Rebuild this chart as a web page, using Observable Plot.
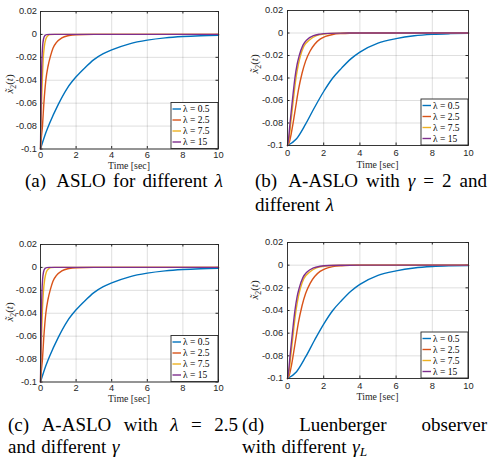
<!DOCTYPE html>
<html><head><meta charset="utf-8">
<script src="https://cdn.jsdelivr.net/npm/d3@7"></script>
<script src="https://cdn.jsdelivr.net/npm/@observablehq/plot@0.6"></script>
<style>
body{margin:0;background:#fff;}
#fig{position:relative;width:493px;height:464px;overflow:hidden;background:#fff;}
.panel{position:absolute;}
#cap{position:absolute;left:0;top:0;}
</style></head><body><div id="fig"></div>
<script>
// ---- shared ticks / categories ----
const xTicks = [0, 2, 4, 6, 8, 10];
const yTicks = [0.02, 0, -0.02, -0.04, -0.06, -0.08, -0.1];
const lambdas = ["0.5", "2.5", "7.5", "15"];
const colors = ["#0072BD", "#D95319", "#EDB120", "#7E2F8E"];

// ---- (a) ASLO for different lambda : [time, value] ----
const a1 = [[0,-0.1],[0.25,-0.088],[0.5,-0.078],[1,-0.061],[1.5,-0.047],[2,-0.037],[2.5,-0.029],[3,-0.022],[3.5,-0.017],[4,-0.0135],[5,-0.0082],[6,-0.005],[7,-0.003],[8,-0.0018],[9,-0.0011],[10,-0.0007]];
const a2 = [[0,-0.1],[0.05,-0.09],[0.11,-0.08],[0.19,-0.06],[0.3,-0.04],[0.42,-0.028],[0.56,-0.019],[0.7,-0.012],[0.9,-0.007],[1.2,-0.003],[1.6,-0.001],[2,-0.0003],[3,0],[10,0]];
const a3 = [[0,-0.1],[0.03,-0.08],[0.06,-0.06],[0.1,-0.04],[0.15,-0.022],[0.22,-0.01],[0.3,-0.004],[0.4,-0.0013],[0.55,-0.0002],[0.8,0],[10,0]];
const a4 = [[0,-0.1],[0.015,-0.08],[0.03,-0.06],[0.05,-0.04],[0.08,-0.022],[0.12,-0.01],[0.17,-0.004],[0.24,-0.0012],[0.35,-0.0002],[0.5,0],[10,0]];

// ---- (b) A-ASLO with gamma = 2, different lambda ----
const b1 = [[0,-0.1],[0.5,-0.094],[1,-0.081],[1.5,-0.066],[2,-0.052],[2.5,-0.04],[3,-0.031],[3.5,-0.023],[4,-0.017],[5,-0.009],[6,-0.005],[7,-0.0025],[8,-0.0012],[9,-0.0006],[10,-0.0003]];
const b2 = [[0,-0.1],[0.1,-0.097],[0.2,-0.09],[0.3,-0.081],[0.45,-0.066],[0.6,-0.051],[0.8,-0.036],[1,-0.025],[1.25,-0.016],[1.5,-0.01],[1.8,-0.0055],[2.1,-0.003],[2.5,-0.0013],[3,-0.0005],[3.5,-0.0002],[4,-0.0001],[5,0],[10,0]];
const b3 = [[0,-0.1],[0.08,-0.095],[0.18,-0.08],[0.32,-0.06],[0.47,-0.04],[0.6,-0.028],[0.72,-0.02],[0.9,-0.012],[1.23,-0.006],[1.6,-0.0024],[2,-0.001],[2.5,-0.0003],[3,-0.0001],[4,0],[10,0]];
const b4 = [[0,-0.1],[0.06,-0.094],[0.14,-0.08],[0.27,-0.06],[0.41,-0.04],[0.53,-0.028],[0.65,-0.02],[0.85,-0.011],[1.08,-0.006],[1.44,-0.0024],[1.8,-0.001],[2.3,-0.0003],[3,-0.0001],[4,0],[10,0]];

// ---- (c) A-ASLO with lambda = 2.5, different gamma ----
const c1 = [[0,-0.1],[0.25,-0.088],[0.5,-0.078],[1,-0.061],[1.5,-0.047],[2,-0.037],[2.5,-0.029],[3,-0.022],[3.5,-0.017],[4,-0.0135],[5,-0.0082],[6,-0.005],[7,-0.003],[8,-0.0018],[9,-0.0011],[10,-0.0007]];
const c2 = [[0,-0.1],[0.05,-0.09],[0.11,-0.08],[0.19,-0.06],[0.3,-0.04],[0.42,-0.028],[0.56,-0.019],[0.7,-0.012],[0.9,-0.007],[1.2,-0.003],[1.6,-0.001],[2,-0.0003],[3,0],[10,0]];
const c3 = [[0,-0.1],[0.03,-0.08],[0.06,-0.06],[0.1,-0.04],[0.16,-0.022],[0.24,-0.01],[0.33,-0.004],[0.45,-0.0013],[0.6,-0.0002],[0.8,0],[10,0]];
const c4 = [[0,-0.1],[0.015,-0.08],[0.03,-0.06],[0.05,-0.04],[0.08,-0.022],[0.12,-0.01],[0.17,-0.004],[0.24,-0.0012],[0.35,-0.0002],[0.5,0],[10,0]];

// ---- (d) Luenberger observer, different gamma_L ----
const d1 = [[0,-0.1],[0.5,-0.094],[1,-0.081],[1.5,-0.066],[2,-0.052],[2.5,-0.04],[3,-0.031],[3.5,-0.023],[4,-0.017],[5,-0.009],[6,-0.005],[7,-0.0025],[8,-0.0012],[9,-0.0006],[10,-0.0003]];
const d2 = [[0,-0.1],[0.1,-0.097],[0.2,-0.09],[0.3,-0.081],[0.45,-0.066],[0.6,-0.051],[0.8,-0.036],[1,-0.025],[1.25,-0.016],[1.5,-0.01],[1.8,-0.0055],[2.1,-0.003],[2.5,-0.0013],[3,-0.0005],[3.5,-0.0002],[4,-0.0001],[5,0],[10,0]];
const d3s = [[0,-0.1],[0.08,-0.095],[0.18,-0.08],[0.32,-0.06],[0.47,-0.04],[0.6,-0.028],[0.72,-0.02],[0.9,-0.012],[1.23,-0.006],[1.6,-0.0024],[2,-0.001],[2.5,-0.0003],[3,-0.0001],[4,0],[10,0]];
const d4 = [[0,-0.1],[0.06,-0.094],[0.14,-0.08],[0.27,-0.06],[0.41,-0.04],[0.53,-0.028],[0.65,-0.02],[0.85,-0.011],[1.08,-0.006],[1.44,-0.0024],[1.8,-0.001],[2.3,-0.0003],[3,-0.0001],[4,0],[10,0]];

const fig = document.getElementById("fig");
const INK = "#262626";
const SERIF = "'Liberation Serif', 'Times New Roman', serif";

function panel(series, o) {
  const pw = o.W - o.ml - o.mr, ph = o.H - o.mt - o.mb;
  const rows = [];
  series.forEach((s, i) => s.forEach(([t, v]) => rows.push({t, v, k: lambdas[i]})));
  const svg = Plot.plot({
    width: o.W, height: o.H,
    marginTop: o.mt, marginBottom: o.mb, marginLeft: o.ml, marginRight: o.mr,
    style: {fontFamily: "'Liberation Sans', Arial, sans-serif", fontSize: "9.3px", color: INK, background: "#fff", overflow: "visible"},
    x: {domain: [0, 10]},
    y: {domain: [-0.1, 0.02]},
    color: {domain: lambdas, range: colors},
    marks: [
      Plot.gridX(xTicks, {stroke: INK, strokeOpacity: 0.15}),
      Plot.gridY(yTicks, {stroke: INK, strokeOpacity: 0.15}),
      Plot.ruleX(xTicks, {stroke: INK, insetTop: ph - 2.5}),
      Plot.ruleX(xTicks, {stroke: INK, insetBottom: ph - 2.5}),
      Plot.ruleY(yTicks, {stroke: INK, insetRight: pw - 2.5}),
      Plot.ruleY(yTicks, {stroke: INK, insetLeft: pw - 2.5}),
      Plot.line(rows, {x: "t", y: "v", z: "k", stroke: "k", strokeWidth: 1.4, curve: "monotone-x"}),
      Plot.frame({stroke: INK, strokeWidth: 0.9}),
      Plot.axisX(xTicks, {tickSize: 0, tickPadding: o.xpad, label: null, tickFormat: d => String(d)}),
      Plot.axisY(yTicks, {tickSize: 0, tickPadding: o.ypad, label: null, tickFormat: d => String(Math.round(d * 100) / 100)})
    ]
  });
  const x = svg.scale("x"), y = svg.scale("y");
  const s = d3.select(svg);
  // x label
  s.append("text").attr("x", x.apply(5)).attr("y", o.xlabY)
    .attr("text-anchor", "middle").attr("font-family", SERIF).attr("font-size", 9.8).attr("fill", INK)
    .text("Time [sec]");
  // y label
  const yl = s.append("text").attr("transform", `translate(${o.ylab[0]},${o.ylab[1]}) rotate(-90)`)
    .attr("text-anchor", "middle").attr("font-family", SERIF).attr("font-size", 11).attr("fill", INK);
  yl.append("tspan").attr("font-style", "italic").text("x\u0303");
  yl.append("tspan").attr("font-size", 7.8).attr("dy", 2.5).text("2");
  yl.append("tspan").attr("dy", -2.5).text("(");
  yl.append("tspan").attr("font-style", "italic").text("t");
  yl.append("tspan").text(")");
  // legend
  const right = x.apply(10), bottom = y.apply(-0.1), w = 47, h = 46;
  const g = s.append("g").attr("text-anchor", "start");
  g.append("rect").attr("x", right - w).attr("y", bottom - h).attr("width", w).attr("height", h)
    .attr("fill", "#fff").attr("stroke", INK).attr("stroke-width", 0.9);
  lambdas.forEach((l, i) => {
    const yy = bottom - h + 6.5 + i * 11;
    g.append("line").attr("x1", right - w + 1.5).attr("x2", right - w + 10).attr("y1", yy).attr("y2", yy)
      .attr("stroke", colors[i]).attr("stroke-width", 1.4);
    g.append("text").attr("x", right - w + 12).attr("y", yy + 3).attr("text-anchor", "start")
      .attr("font-family", SERIF).attr("font-size", 9.5).attr("fill", "#000")
      .text("\u03bb = " + l);
  });
  const div = document.createElement("div");
  div.className = "panel";
  div.style.left = o.L + "px"; div.style.top = o.T + "px";
  div.appendChild(svg);
  fig.appendChild(div);
}

panel([a1, a2, a3, a4], {L: 0, T: 0, W: 240, H: 172, mt: 11, mb: 23.5, ml: 40, mr: 22, xpad: 2.5, ypad: 3.5, xlabY: 168.5, ylab: [13, 84]});
panel([b1, b2, b3, b4], {L: 245, T: 0, W: 245, H: 172, mt: 10, mb: 27, ml: 42, mr: 22, xpad: 3.6, ypad: 4.3, xlabY: 167.5, ylab: [13, 64]});
panel([c1, c2, c3, c4], {L: 0, T: 226, W: 240, H: 180, mt: 18, mb: 24.5, ml: 40, mr: 22, xpad: 2.8, ypad: 3.5, xlabY: 176, ylab: [13, 86]});
panel([d1, d2, d3s, d4], {L: 245, T: 226, W: 245, H: 180, mt: 16, mb: 28, ml: 42, mr: 22, xpad: 3.8, ypad: 4.3, xlabY: 173.5, ylab: [13, 64]});

// ---- captions ----
// each word: list of [text, style]; gw = relative weight of gap after each word (justified lines)
const capLines = [
  {x0: 25, x1: 223, y: 187, justify: true, gw: [1.4, 1, 1, 1], words: [[["(a)"]], [["ASLO"]], [["for"]], [["different"]], [["\u03bb", "i"]]]},
  {x0: 255, x1: 487, y: 187, justify: true, gw: [1.4, 1, 1, 1, 1, 1], words: [[["(b)"]], [["A-ASLO"]], [["with"]], [["\u03b3", "i"]], [["="]], [["2"]], [["and"]]]},
  {x0: 255, y: 211, justify: false, words: [[["different"]], [["\u03bb", "i"]]]},
  {x0: 8, x1: 238, y: 431, justify: true, gw: [1, 1, 1, 1, 1], words: [[["(c)"]], [["A-ASLO"]], [["with"]], [["\u03bb", "i"]], [["="]], [["2.5"]]]},
  {x0: 8, y: 453, justify: false, words: [[["and"]], [["different"]], [["\u03b3", "i"]]]},
  {x0: 242, x1: 487, y: 431, justify: true, gw: [1, 1], words: [[["(d)"]], [["Luenberger"]], [["observer"]]]},
  {x0: 242, y: 453, justify: false, words: [[["with"]], [["different"]], [["\u03b3", "i"], ["L", "sub"]]]}
];
const cap = d3.select(fig).append("svg").attr("id", "cap").attr("width", 493).attr("height", 464);
const CAPFS = 19;
capLines.forEach(line => {
  const els = line.words.map(word => {
    const t = cap.append("text").attr("y", line.y).attr("font-family", SERIF).attr("font-size", CAPFS).attr("fill", "#000");
    word.forEach(([str, st]) => {
      const ts = t.append("tspan").text(str);
      if (st === "i") ts.attr("font-style", "italic");
      if (st === "sub") ts.attr("font-style", "italic").attr("font-size", CAPFS * 0.7).attr("dy", 3);
    });
    return t;
  });
  const widths = els.map(e => e.node().getComputedTextLength());
  const total = d3.sum(widths);
  let gaps;
  if (line.justify) {
    const unit = (line.x1 - line.x0 - total) / d3.sum(line.gw);
    gaps = line.gw.map(g => g * unit);
  } else {
    gaps = els.map(() => CAPFS * 0.3);
  }
  let xx = line.x0;
  els.forEach((e, i) => { e.attr("x", xx); xx += widths[i] + (gaps[i] || 0); });
});
</script></body></html>
